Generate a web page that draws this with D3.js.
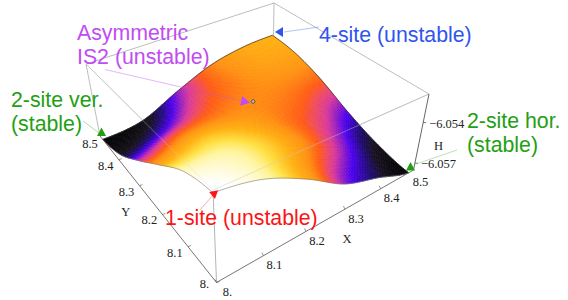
<!DOCTYPE html>
<html>
<head>
<meta charset="utf-8">
<script src="https://cdn.jsdelivr.net/npm/d3@7/dist/d3.min.js"></script>
<style>
html, body { margin: 0; padding: 0; background: #fff; }
svg { display: block; }
.note { font-family: "Liberation Sans", Arial, sans-serif; font-size: 21.3px; }
.tick { font-family: "Liberation Serif", "Times New Roman", serif; font-size: 12.5px; fill: #222; }
</style>
</head>
<body>
<svg id="chart" width="568" height="300"></svg>
<script>
// Values
const gridX = [8, 8.1, 8.2, 8.3, 8.4, 8.485];
const gridY = [8, 8.1, 8.2, 8.3, 8.4, 8.485];
// H by row (Y) and column (X)
const hValues = [
    [-6.05207, -6.05263, -6.05397, -6.05565, -6.05655, -6.05750],
    [-6.05263, -6.05280, -6.05358, -6.05470, -6.05582, -6.05683],
    [-6.05403, -6.05358, -6.05392, -6.05459, -6.05515, -6.05588],
    [-6.05554, -6.05481, -6.05459, -6.05448, -6.05459, -6.05481],
    [-6.05688, -6.05616, -6.05515, -6.05459, -6.05414, -6.05409],
    [-6.05750, -6.05700, -6.05565, -6.05453, -6.05398, -6.05380]
];
const xTicks = [8, 8.1, 8.2, 8.3, 8.4, 8.5];
const xTickLabels = ["8.", "8.1", "8.2", "8.3", "8.4", "8.5"];
const yTicks = [8, 8.1, 8.2, 8.3, 8.4, 8.5];
const yTickLabels = ["8.", "8.1", "8.2", "8.3", "8.4", "8.5"];
const hTicks = [-6.057, -6.054];
const hTickLabels = ["\u22126.057", "\u22126.054"];
const is2Point = { x: 8.282, y: 8.292, h: -6.05455 };

const svg = d3.select("#chart");

// corners of the box as seen on the page
const box = {
    bottom: { f: [216.5, 282.5], r: [413.5, 170], l: [100, 136], b: [272, 88] },
    top: { f: [213, 190], r: [429, 94], l: [86, 64], b: [274, 3] }
};

const xNorm = d3.scaleLinear().domain([8, 8.5]).range([0, 1]);
const yNorm = d3.scaleLinear().domain([8, 8.5]).range([0, 1]);
const hNorm = d3.scaleLinear().domain([-6.0575, -6.0519]).range([0, 1]);

const colorScale = d3.scaleLinear()
    .domain([0, 0.13, 0.2, 0.28, 0.38, 0.43, 0.47, 0.55, 0.66, 0.76, 0.83, 0.95])
    .range(["#000000", "#15101c", "#1f0a70", "#4a00f0", "#d8389a", "#f04a60", "#ff5a14", "#ff9010", "#ffb010", "#ffe040", "#fff49a", "#ffffff"])
    .clamp(true);

// foreshortening along a box edge
function warp(t, k) {
    return t * k / (t * k + 1 - t);
}

function corner(plane, u, v) {
    const a = d3.interpolate(plane.f, plane.r)(u);
    const b = d3.interpolate(plane.l, plane.b)(u);
    return d3.interpolate(a, b)(v);
}

function project(x, y, h) {
    const u = warp(xNorm(x), 1.25);
    const v = warp(yNorm(y), 1.3);
    const low = corner(box.bottom, u, v);
    const high = corner(box.top, u, v);
    return d3.interpolate(low, high)(hNorm(h));
}

// Catmull-Rom between the read values, only to draw the sheet smoothly
function spline(p0, p1, p2, p3, t) {
    return 0.5 * (2 * p1 + (p2 - p0) * t + (2 * p0 - 5 * p1 + 4 * p2 - p3) * t * t + (3 * p1 - p0 - 3 * p2 + p3) * t * t * t);
}

function sampleRow(values, s) {
    const n = values.length - 1;
    const i = Math.min(Math.floor(s * n), n - 1);
    const t = s * n - i;
    return spline(values[Math.max(i - 1, 0)], values[i], values[i + 1], values[Math.min(i + 2, n)], t);
}

function surfaceH(s, t) {
    return sampleRow(hValues.map(row => sampleRow(row, s)), t);
}

const steps = 64;
const sx = d3.scaleLinear().domain([0, 1]).range([gridX[0], gridX[gridX.length - 1]]);
const sy = d3.scaleLinear().domain([0, 1]).range([gridY[0], gridY[gridY.length - 1]]);
const surfacePoint = (i, j) => project(sx(i / steps), sy(j / steps), surfaceH(i / steps, j / steps));

// Back box edges
const boxColor = "#a9adad";
function edge(a, b, color, width, opacity) {
    svg.append("line")
        .attr("x1", a[0]).attr("y1", a[1])
        .attr("x2", b[0]).attr("y2", b[1])
        .attr("stroke", color)
        .attr("stroke-width", width)
        .attr("opacity", opacity === undefined ? 1 : opacity);
}
edge(box.top.l, box.top.b, boxColor, 0.8);
edge(box.top.b, box.top.r, boxColor, 0.8);
edge(box.top.b, [273.5, 40], boxColor, 0.8);
edge(box.bottom.l, box.top.l, boxColor, 0.8);
edge(box.top.f, box.top.l, boxColor, 0.8);
edge(box.top.f, box.top.r, boxColor, 0.8);
edge(box.bottom.f, box.top.f, boxColor, 0.9);

// Surface, painted from the far corner to the near one
const cells = [];
for (let i = steps - 1; i >= 0; i--) {
    for (let j = steps - 1; j >= 0; j--) {
        cells.push({ i, j });
    }
}
const quad = d => "M" + [surfacePoint(d.i, d.j), surfacePoint(d.i + 1, d.j), surfacePoint(d.i + 1, d.j + 1), surfacePoint(d.i, d.j + 1)]
    .map(p => p[0].toFixed(2) + "," + p[1].toFixed(2)).join("L") + "Z";
const cellColor = d => colorScale(hNorm(surfaceH((d.i + 0.5) / steps, (d.j + 0.5) / steps)));

svg.append("g")
    .selectAll("path")
    .data(cells)
    .join("path")
    .attr("d", quad)
    .attr("fill", cellColor)
    .attr("stroke", cellColor)
    .attr("stroke-width", 0.6);

// Sheet outline
const line = d3.line();
const steps01 = d3.range(steps + 1);
svg.append("path")
    .attr("d", line(steps01.map(k => surfacePoint(k, steps))))
    .attr("fill", "none").attr("stroke", "#333").attr("stroke-width", 0.7);
svg.append("path")
    .attr("d", line(steps01.map(k => surfacePoint(steps, k))))
    .attr("fill", "none").attr("stroke", "#333").attr("stroke-width", 0.7);
svg.append("path")
    .attr("d", line(steps01.map(k => surfacePoint(k, 0))))
    .attr("fill", "none").attr("stroke", "#777").attr("stroke-width", 0.6);
svg.append("path")
    .attr("d", line(steps01.map(k => surfacePoint(0, k))))
    .attr("fill", "none").attr("stroke", "#777").attr("stroke-width", 0.6);

// Box edges showing faintly through the sheet
edge(box.top.f, box.top.l, "#ddd", 0.8, 0.45);
edge(box.top.f, box.top.r, "#ccc", 0.8, 0.55);

// Axes
edge(box.bottom.f, box.bottom.r, "#666", 0.9);
edge(box.bottom.f, box.bottom.l, "#666", 0.9);
edge(box.bottom.r, box.top.r, "#555", 0.9);

function tickText(label, p, dx, dy) {
    svg.append("text")
        .attr("class", "tick")
        .attr("x", p[0] + dx)
        .attr("y", p[1] + dy)
        .attr("text-anchor", "middle")
        .attr("dominant-baseline", "central")
        .text(label);
}

const hMin = hNorm.domain()[0];
xTicks.forEach((v, i) => {
    const p = project(v, 8, hMin);
    edge(p, [p[0] - 1.5, p[1] - 3], "#666", 0.7);
    tickText(xTickLabels[i], p, i === 5 ? 7 : 11, i === 5 ? 12 : 9.5);
});
yTicks.forEach((v, i) => {
    const p = project(8, v, hMin);
    edge(p, [p[0] + 3, p[1] - 1], "#666", 0.7);
    tickText(yTickLabels[i], p, i === 0 ? -12 : i === 5 ? -10 : -13, i === 0 ? 1 : i === 5 ? 8 : 6);
});
hTicks.forEach((v, i) => {
    const p = project(8.5, 8, v);
    edge(p, [p[0] + 3, p[1]], "#555", 0.7);
    svg.append("text")
        .attr("class", "tick")
        .attr("x", p[0] + 6)
        .attr("y", p[1] + 1)
        .attr("dominant-baseline", "central")
        .text(hTickLabels[i]);
});
tickText("X", project(8.3, 8, hMin), 2, 30);
tickText("Y", project(8, 8.25, hMin), -25, 12);
svg.append("text").attr("class", "tick").attr("x", 434).attr("y", 146)
    .attr("dominant-baseline", "central").text("H");

// Annotations
function arrow(tip, angle, len, wid, color) {
    svg.append("path")
        .attr("d", d3.line()([[0, 0], [-len, -wid / 2], [-len, wid / 2]]) + "Z")
        .attr("transform", `translate(${tip[0]},${tip[1]}) rotate(${angle})`)
        .attr("fill", color);
}
function note(lines, x, y, color) {
    lines.forEach((s, i) => {
        svg.append("text")
            .attr("class", "note")
            .attr("x", x)
            .attr("y", y + i * 24)
            .attr("fill", color)
            .text(s);
    });
}

const purple = "#c04cf2", blue = "#3054f0", green = "#22a012", red = "#fb1414";
edge([105, 69.5], [246, 102], purple, 1, 0.4);
edge([284, 32], [319, 27], blue, 1, 0.35);
edge([83, 121], [99, 133], green, 1, 0.35);
edge([416, 164], [457, 150], green, 1, 0.3);
edge([200, 210], [213, 195], red, 1, 0.35);

const is2 = project(is2Point.x, is2Point.y, is2Point.h);
arrow([250, 102.7], 12, 9, 10, purple);
arrow([275, 32], 180, 8, 10, blue);
arrow([101.5, 127.5], -90, 8.5, 9, green);
arrow([410.5, 162], -90, 8.5, 9, green);
arrow([215, 199], 80, 8, 9, red);
svg.append("circle")
    .attr("cx", is2[0]).attr("cy", is2[1]).attr("r", 1.8)
    .attr("fill", "#bbb").attr("stroke", "#333").attr("stroke-width", 0.7);

note(["Asymmetric", "IS2 (unstable)"], 77, 40, purple);
note(["4-site (unstable)"], 319, 42, blue);
note(["2-site ver.", "(stable)"], 11, 107, green);
note(["2-site hor.", "(stable)"], 467, 128, green);
note(["1-site (unstable)"], 165, 225, red);
</script>
</body>
</html>
